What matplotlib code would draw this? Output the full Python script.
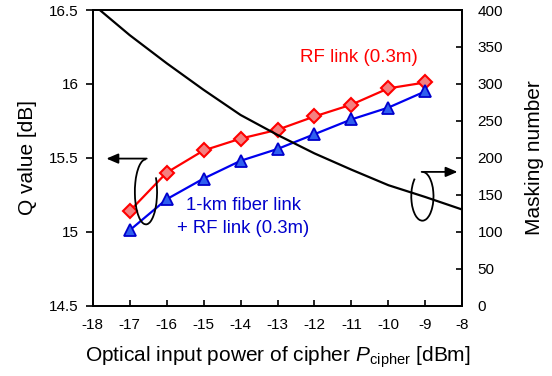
import matplotlib
matplotlib.use("Agg")
import matplotlib.pyplot as plt
from matplotlib.patches import Arc

plt.rcParams['font.family'] = ['Liberation Sans', 'DejaVu Sans']
plt.rcParams['mathtext.fontset'] = 'custom'
plt.rcParams['mathtext.rm'] = 'Liberation Sans'
plt.rcParams['mathtext.it'] = 'Liberation Sans:italic'

# Data
power = [-17, -16, -15, -14, -13, -12, -11, -10, -9]
q_rf = [15.14, 15.40, 15.55, 15.63, 15.69, 15.78, 15.86, 15.97, 16.01]
q_fiber_rf = [15.01, 15.22, 15.36, 15.48, 15.56, 15.66, 15.76, 15.84, 15.95]
mask_power = [-18, -17, -16, -15, -14, -13, -12, -11, -10, -9, -8]
mask_number = [408, 366, 328, 292, 258, 231, 206, 184, 163, 147, 130]

xticks = list(range(-18, -7))
yticks_left = [14.5, 15, 15.5, 16, 16.5]
yticks_right = [0, 50, 100, 150, 200, 250, 300, 350, 400]

fig = plt.figure(figsize=(5.52, 3.76), dpi=100)
ax = fig.add_axes([0.168, 0.187, 0.6695, 0.7864])
ax2 = ax.twinx()

ax.plot(power, q_rf, color='#FF0000', lw=1.6, marker='D', ms=7,
        mfc='#F48080', mec='#FF0000', mew=1.5, zorder=3)
ax.plot(power, q_fiber_rf, color='#0000EE', lw=1.6, marker='^', ms=9,
        mfc='#2F5FEF', mec='#0000CC', mew=1.3, zorder=3)
ax2.plot(mask_power, mask_number, color='black', lw=1.6, zorder=2)

ax.set_xlim(-18, -8)
ax.set_ylim(14.5, 16.5)
ax2.set_ylim(0, 400)
ax.set_xticks(xticks)
ax.set_xticklabels([str(t) for t in xticks])
ax.set_yticks(yticks_left)
ax.set_yticklabels(['14.5', '15', '15.5', '16', '16.5'])
ax2.set_yticks(yticks_right)

for a in (ax, ax2):
    for s in a.spines.values():
        s.set_linewidth(1.3)

ax.tick_params(axis='x', direction='in', length=4, width=1.2, labelsize=11, pad=9)
ax.tick_params(axis='y', direction='out', length=5, width=1.2, labelsize=11, pad=5)
ax2.tick_params(axis='y', direction='in', length=4, width=1.2, labelsize=11, pad=11)

ax.set_xlabel(r"Optical input power of cipher $\it{P}$$_{\rm cipher}$ [dBm]", fontsize=15, labelpad=9)
ax.set_ylabel("Q value [dB]", fontsize=15, labelpad=9)
ax2.set_ylabel("Masking number", fontsize=15, labelpad=16)

ax.text(-10.79, 16.18, "RF link (0.3m)", color='#FF0000', fontsize=13.5, ha='center', va='center')
ax.text(-13.93, 15.18, "1-km fiber link", color='#0000CC', fontsize=13.3, ha='center', va='center')
ax.text(-13.93, 15.025, "+ RF link (0.3m)", color='#0000CC', fontsize=13.3, ha='center', va='center')

# Left annotation: ellipse + arrow to left axis
ax.add_patch(Arc((-16.56, 15.27), 0.6, 0.44, theta1=90, theta2=20, color='black', lw=1.3, zorder=4))
ax.annotate("", xy=(-17.63, 15.495), xytext=(-16.54, 15.495),
            arrowprops=dict(arrowstyle='-|>,head_length=0.7,head_width=0.3', color='black', lw=1.3,
                            shrinkA=0, shrinkB=0))
# Right annotation: ellipse + arrow to right axis
ax.add_patch(Arc((-9.08, 15.24), 0.6, 0.33, theta1=150, theta2=90, color='black', lw=1.3, zorder=4))
ax.annotate("", xy=(-8.13, 15.405), xytext=(-9.1, 15.405),
            arrowprops=dict(arrowstyle='-|>,head_length=0.7,head_width=0.3', color='black', lw=1.3,
                            shrinkA=0, shrinkB=0))

fig.savefig("out.png", dpi=100)
